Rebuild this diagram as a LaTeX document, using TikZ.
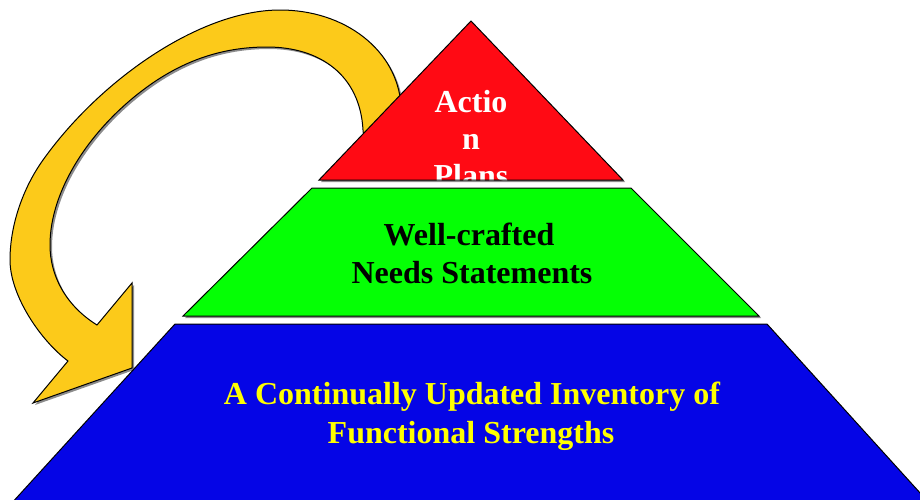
\documentclass[tikz,border=0pt]{standalone}
\usepackage{fontspec}
\setmainfont{Liberation Serif}
\definecolor{topred}{RGB}{255,10,20}
\definecolor{midgreen}{RGB}{5,255,5}
\definecolor{basblue}{RGB}{5,5,230}
\definecolor{arrowgold}{RGB}{252,202,26}
\definecolor{txtyellow}{RGB}{255,255,0}
\begin{document}
\begin{tikzpicture}[x=1pt,y=-1pt,line join=miter,
  outline/.style={draw=black,line width=1pt},
  dropshadow/.style={fill=black!45,draw=none,shift={(2,2)}},
  tier/.style={font=\fontsize{32}{38}\selectfont\bfseries,inner sep=0pt,anchor=base}]
\useasboundingbox (0,0) rectangle (920,499);

% curved return arrow (drawn first, its root hidden under the apex)
\def\returnarrow{(403,125) -- (401,105)
  .. controls (397,50) and (345,10) .. (280,10)
  .. controls (200,10) and (100,80) .. (43,160)
  .. controls (23,188) and (10,225) .. (10,260)
  .. controls (10,295) and (40,340) .. (68,361)
  -- (33,403) -- (132,368) -- (132,283) -- (97,325)
  .. controls (65,305) and (50,275) .. (50,245)
  .. controls (50,190) and (90,130) .. (143,90)
  .. controls (180,62) and (220,47) .. (267,47)
  .. controls (320,47) and (360,75) .. (363,130)
  -- (365,150) -- cycle}
\fill[dropshadow] \returnarrow;
\path[outline,fill=arrowgold] \returnarrow;

% top tier
\def\toptier{(471,21) -- (623,180) -- (319,180) -- cycle}
\fill[dropshadow] \toptier;
\fill[topred] \toptier;
\begin{scope}
  \clip \toptier;
  \node[tier,white] (act1) at (471,112) {Actio};
  \node[tier,white] (act2) at (471,149) {n};
  \node[tier,white] (act3) at (471,186) {Plans};
\end{scope}
\draw[outline] \toptier;

% middle tier
\def\midtier{(312,188) -- (631,188) -- (759,316) -- (183,316) -- cycle}
\fill[dropshadow] \midtier;
\path[outline,fill=midgreen] \midtier;
\node[tier,black] (need1) at (469,245) {Well-crafted};
\node[tier,black] (need2) at (472,283) {Needs Statements};

% base tier
\def\basetier{(175,324) -- (767,324) -- (931,505) -- (10,505) -- cycle}
\fill[dropshadow] \basetier;
\path[outline,fill=basblue] \basetier;
\node[tier,txtyellow] (inv1) at (472,404) {A Continually Updated Inventory of};
\node[tier,txtyellow] (inv2) at (471,443) {Functional Strengths};
\end{tikzpicture}
\end{document}
